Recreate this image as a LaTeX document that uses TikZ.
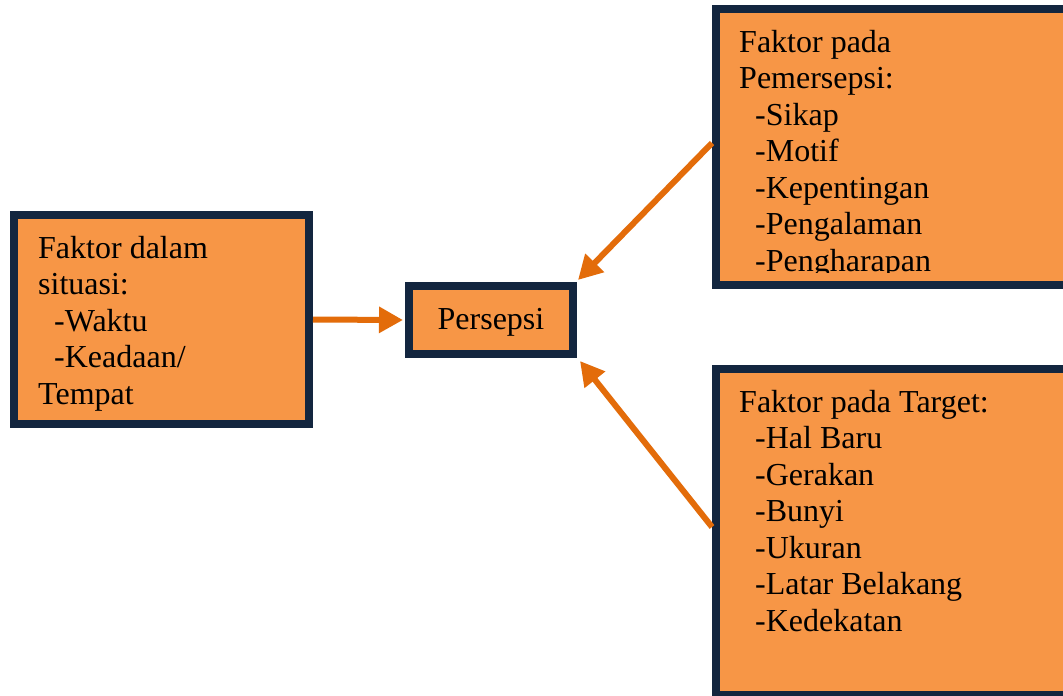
\documentclass[tikz,border=0pt]{standalone}
\usepackage{fontspec}
\setmainfont{Liberation Serif}
\usetikzlibrary{arrows.meta}
\definecolor{boxfill}{HTML}{F79646}
\definecolor{boxline}{HTML}{13263F}
\definecolor{arrowc}{HTML}{E36C0A}
\newcommand{\ind}{\hspace*{16pt}}
\tikzset{
  fbox/.style={draw=boxline, fill=boxfill, line width=8pt, inner sep=0pt},
  btext/.style={inner sep=0pt, anchor=north west, align=left, font=\fontsize{32}{36.5}\selectfont},
  conn/.style={draw=arrowc, line width=6pt, -{Triangle[length=24pt,width=25pt]}}
}
\begin{document}
\begin{tikzpicture}[x=1pt,y=-1pt]
\clip (0,0) rectangle (1063,696);
\fill[white] (0,0) rectangle (1063,696);
% boxes
\node[fbox, minimum width=295pt, minimum height=209pt] (sit) at (161.5,319.5) {};
\node[fbox, minimum width=164pt, minimum height=68pt, text height=22pt, text depth=3pt, font=\fontsize{32}{36.5}\selectfont] (pers) at (491,320) {Persepsi};
\node[fbox, minimum width=359pt, minimum height=276pt] (pem) at (895.5,147) {};
\node[fbox, minimum width=359pt, minimum height=326pt] (tar) at (895.5,532) {};
% texts
\node[btext] (sittext) at (38,236) {Faktor dalam\\situasi:\\\ind-Waktu\\\ind-Keadaan/\\Tempat};
\begin{scope}
\clip (720,13) rectangle (1063,272);
\node[btext] (pemtext) at (739,30) {Faktor pada\\Pemersepsi:\\\ind-Sikap\\\ind-Motif\\\ind-Kepentingan\\\ind-Pengalaman\\\ind-Pengharapan};
\end{scope}
\node[btext] (tartext) at (739,390) {Faktor pada Target:\\\ind-Hal Baru\\\ind-Gerakan\\\ind-Bunyi\\\ind-Ukuran\\\ind-Latar Belakang\\\ind-Kedekatan};
% connectors
\draw[conn] (sit.east) -- ([xshift=-2pt]pers.west);
\draw[conn] ([yshift=4pt]pem.west) -- ([xshift=1pt,yshift=2pt]pers.north east);
\draw[conn] ([yshift=5pt]tar.west) -- ([xshift=3pt,yshift=-3pt]pers.south east);
\end{tikzpicture}
\end{document}
